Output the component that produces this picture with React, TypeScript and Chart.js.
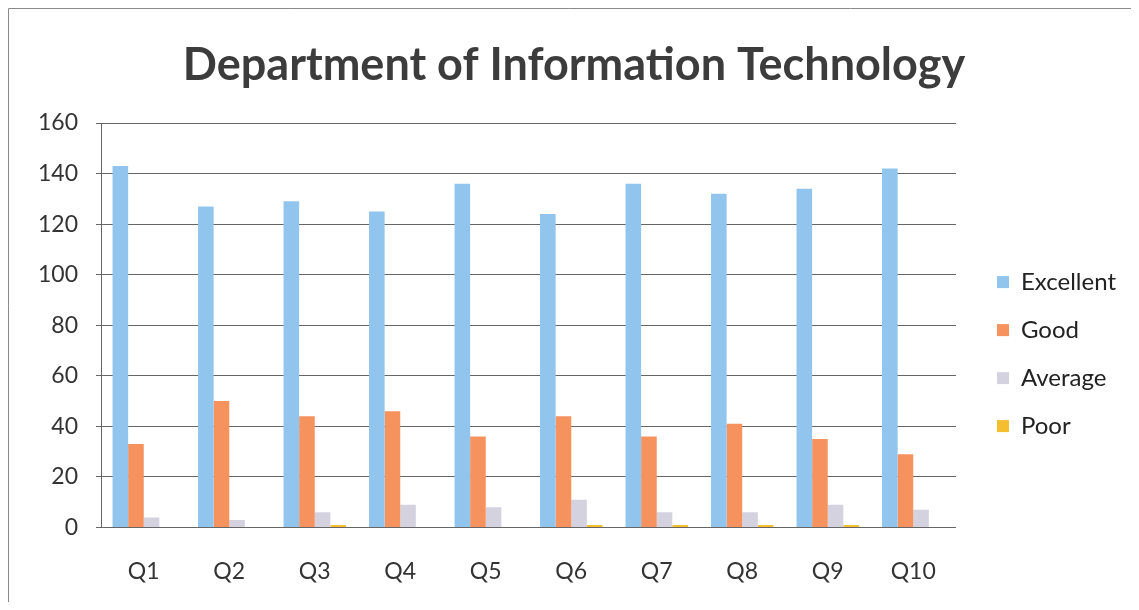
import React, { useEffect, useRef } from "react";
import { Chart, registerables } from "chart.js";

Chart.register(...registerables);

const categories = ["Q1", "Q2", "Q3", "Q4", "Q5", "Q6", "Q7", "Q8", "Q9", "Q10"];
const excellent = [143, 127, 129, 125, 136, 124, 136, 132, 134, 142];
const good = [33, 50, 44, 46, 36, 44, 36, 41, 35, 29];
const average = [4, 3, 6, 9, 8, 11, 6, 6, 9, 7];
const poor = [0, 0, 1, 0, 0, 1, 1, 1, 1, 0];
const yTicks = [0, 20, 40, 60, 80, 100, 120, 140, 160];

const FONT = "Lato, 'Open Sans', sans-serif";

const frame = {
  id: "frame",
  beforeDraw(chart: any) {
    const { ctx, width, height } = chart;
    ctx.save();
    ctx.fillStyle = "#ffffff";
    ctx.fillRect(0, 0, width, height);
    ctx.strokeStyle = "#8a8a8a";
    ctx.lineWidth = 1;
    ctx.beginPath();
    ctx.moveTo(0.5, height);
    ctx.lineTo(0.5, 0.5);
    ctx.lineTo(width, 0.5);
    ctx.stroke();
    ctx.restore();
  },
};

export default function App() {
  const ref = useRef<HTMLCanvasElement>(null);
  useEffect(() => {
    if (!ref.current) return;
    const chart = new Chart(ref.current, {
      type: "bar",
      data: {
        labels: categories,
        datasets: [
          { label: "Excellent", data: excellent, backgroundColor: "#92c5ee" },
          { label: "Good", data: good, backgroundColor: "#f5925e" },
          { label: "Average", data: average, backgroundColor: "#d4d2df" },
          { label: "Poor", data: poor, backgroundColor: "#f5be2e" },
        ],
      },
      options: {
        animation: false,
        responsive: false,
        layout: { padding: { left: 14, right: 5, top: 0, bottom: 0 } },
        datasets: { bar: { categoryPercentage: 0.73, barPercentage: 1 } },
        scales: {
          x: {
            grid: { display: false, drawTicks: false },
            border: { display: false },
            ticks: { color: "#333", font: { family: FONT, size: 23 }, padding: 30 },
            afterFit: (scale: any) => {
              scale.height = 74.5;
            },
          },
          y: {
            min: 0,
            max: 160,
            afterBuildTicks: (scale: any) => {
              scale.ticks = yTicks.map((v) => ({ value: v }));
            },
            afterFit: (scale: any) => {
              scale.width = 79;
            },
            grid: { color: "#666", lineWidth: 1, tickLength: 5, drawTicks: true },
            border: { display: true, color: "#666" },
            ticks: { color: "#333", font: { family: FONT, size: 23 }, padding: 18 },
          },
          yGap: {
            position: "right",
            display: true,
            grid: { display: false, drawTicks: false },
            border: { display: false },
            ticks: { display: false },
            afterFit: (scale: any) => {
              scale.width = 17;
            },
          },
        },
        plugins: {
          title: {
            display: true,
            text: "Department of Information Technology",
            color: "#3c3c3c",
            font: { family: FONT, size: 45, weight: "bold" },
            padding: { top: 30, bottom: 31 },
          },
          legend: {
            position: "right",
            title: {
              display: true,
              text: " ",
              font: { size: 1 },
              padding: { top: 0, bottom: 97 },
            },
            labels: {
              color: "#222",
              font: { family: FONT, size: 24 },
              boxWidth: 12,
              boxHeight: 12,
              padding: 24,
            },
          },
          tooltip: { enabled: false },
        },
      } as any,
      plugins: [frame],
    });
    return () => chart.destroy();
  }, []);
  return (
    <div style={{ width: 1123, height: 594 }}>
      <canvas ref={ref} width={1123} height={594} style={{ display: "block" }} />
    </div>
  );
}
